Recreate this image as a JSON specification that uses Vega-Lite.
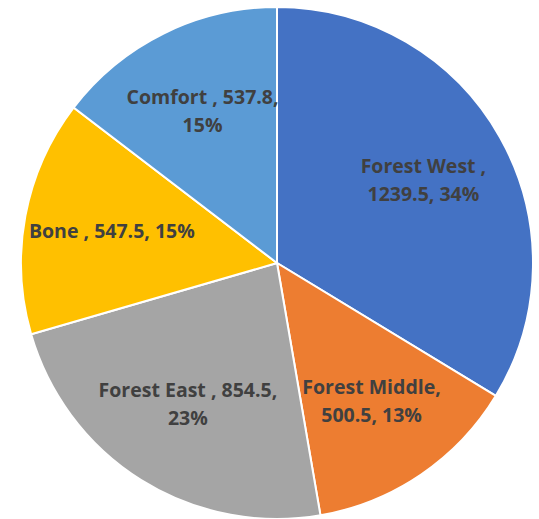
{
  "$schema": "https://vega.github.io/schema/vega-lite/v6.json",
  "width": 539,
  "height": 519,
  "autosize": {"type": "fit", "contains": "padding"},
  "padding": {"left": 15, "top": 7, "right": 0, "bottom": 0},
  "background": "white",
  "view": {"stroke": null},
  "data": {
    "values": [
      {"region": "Forest West", "order": 1, "value": 1239.5, "line1": "Forest West ,", "line2": "1239.5, 34%", "single": ""},
      {"region": "Forest Middle", "order": 2, "value": 500.5, "line1": "Forest Middle,", "line2": "500.5, 13%", "single": ""},
      {"region": "Forest East", "order": 3, "value": 854.5, "line1": "Forest East , 854.5,", "line2": "23%", "single": ""},
      {"region": "Bone", "order": 4, "value": 547.5, "line1": "", "line2": "", "single": "Bone , 547.5, 15%"},
      {"region": "Comfort", "order": 5, "value": 537.8, "line1": "Comfort , 537.8,", "line2": "15%", "single": ""}
    ]
  },
  "encoding": {
    "theta": {"field": "value", "type": "quantitative", "stack": true},
    "order": {"field": "order", "type": "quantitative"}
  },
  "layer": [
    {
      "mark": {"type": "arc", "outerRadius": 256, "stroke": "white", "strokeWidth": 2},
      "encoding": {
        "color": {
          "field": "region",
          "type": "nominal",
          "scale": {
            "domain": ["Forest West", "Forest Middle", "Forest East", "Bone", "Comfort"],
            "range": ["#4472C4", "#ED7D31", "#A5A5A5", "#FFC000", "#5B9BD5"]
          },
          "legend": null
        }
      }
    },
    {
      "mark": {"type": "text", "radius": 168, "dy": -14, "font": "Open Sans", "fontWeight": "bold", "fontSize": 19.5, "fill": "#404040", "align": "center", "baseline": "middle"},
      "encoding": {"text": {"field": "line1", "type": "nominal"}}
    },
    {
      "mark": {"type": "text", "radius": 168, "dy": 14, "font": "Open Sans", "fontWeight": "bold", "fontSize": 19.5, "fill": "#404040", "align": "center", "baseline": "middle"},
      "encoding": {"text": {"field": "line2", "type": "nominal"}}
    },
    {
      "mark": {"type": "text", "radius": 168, "font": "Open Sans", "fontWeight": "bold", "fontSize": 19.5, "fill": "#404040", "align": "center", "baseline": "middle"},
      "encoding": {"text": {"field": "single", "type": "nominal"}}
    }
  ]
}
